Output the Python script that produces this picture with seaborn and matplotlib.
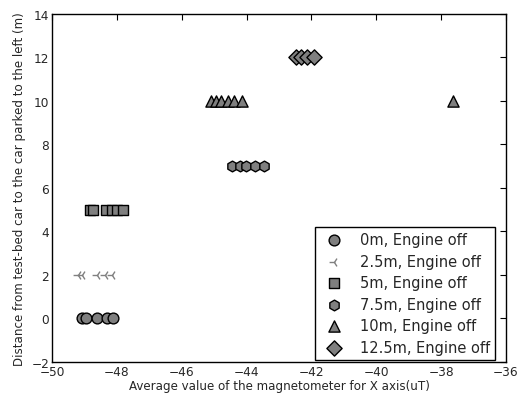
import numpy as np
import pandas as pd
import matplotlib
matplotlib.use("Agg")
import matplotlib.pyplot as plt
import seaborn as sns

# ========================================
# DATA
# ========================================
x_0m = [-49.07, -48.95, -48.61, -48.30, -48.12]
y_0m = [0, 0, 0, 0, 0]

x_2_5m = [-49.20, -49.07, -48.61, -48.36, -48.15]
y_2_5m = [2, 2, 2, 2, 2]

x_5m = [-48.84, -48.73, -48.35, -48.15, -48.01, -47.82]
y_5m = [5, 5, 5, 5, 5, 5]

x_7_5m = [-44.44, -44.20, -44.01, -43.73, -43.46]
y_7_5m = [7, 7, 7, 7, 7]

x_10m = [-45.09, -44.94, -44.78, -44.57, -44.38, -44.13, -37.62]
y_10m = [10, 10, 10, 10, 10, 10, 10]

x_12_5m = [-42.48, -42.31, -42.13, -41.93]
y_12_5m = [12, 12, 12, 12]

labels = ["0m, Engine off", "2.5m, Engine off", "5m, Engine off",
          "7.5m, Engine off", "10m, Engine off", "12.5m, Engine off"]
markers = ["o", "3", "s", "h", "^", "D"]
sizes = [60, 50, 55, 60, 65, 60]

series = [(x_0m, y_0m), (x_2_5m, y_2_5m), (x_5m, y_5m),
          (x_7_5m, y_7_5m), (x_10m, y_10m), (x_12_5m, y_12_5m)]

# ========================================
# PLOT
# ========================================
sns.set_style("white")
plt.rcParams['font.family'] = ['DejaVu Sans']
plt.rcParams['xtick.direction'] = 'in'
plt.rcParams['ytick.direction'] = 'in'

fig = plt.figure(figsize=(5.21, 4.02), dpi=100)
ax = fig.add_axes([0.1, 0.097, 0.871, 0.866])

for (xs, ys), lab, mk, sz in zip(series, labels, markers, sizes):
    df = pd.DataFrame({'x': xs, 'y': ys})
    if mk == "3":
        sns.scatterplot(data=df, x='x', y='y', marker=mk, s=sz, color='gray',
                        linewidth=1.0, label=lab, ax=ax)
    else:
        sns.scatterplot(data=df, x='x', y='y', marker=mk, s=sz, color='#7f7f7f',
                        edgecolor='black', linewidth=1.0, label=lab, ax=ax)

ax.set_xlim(-50, -36)
ax.set_ylim(-2, 14)
ax.set_xticks(np.arange(-50, -35, 2))
ax.set_yticks(np.arange(-2, 15, 2))
ax.tick_params(axis='both', which='both', top=True, right=True, length=4,
               width=0.8, color='black', labelsize=8.7, pad=2)
ax.set_xlabel('Average value of the magnetometer for X axis(uT)', fontsize=8.6, labelpad=1)
ax.set_ylabel('Distance from test-bed car to the car parked to the left (m)', fontsize=8.6,
              labelpad=4)
for sp in ax.spines.values():
    sp.set_color('black')
    sp.set_linewidth(1.0)

leg = ax.legend(loc='lower right', bbox_to_anchor=(0.976, 0.006), borderaxespad=0,
                fontsize=10.5, frameon=True, fancybox=False, framealpha=1,
                edgecolor='black', handletextpad=0.75, labelspacing=0.45,
                borderpad=0.35, scatterpoints=1)
leg.get_frame().set_linewidth(1.0)

plt.savefig("out.png", dpi=100)
plt.close()
